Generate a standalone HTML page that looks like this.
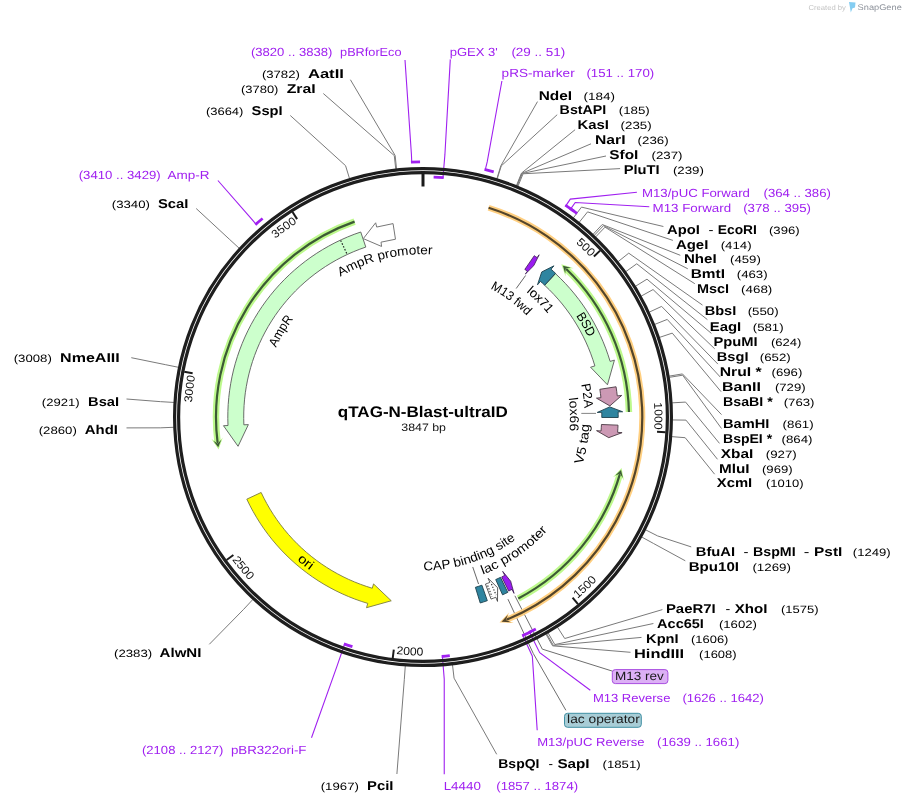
<!DOCTYPE html>
<html><head><meta charset="utf-8"><style>
html,body{margin:0;padding:0;background:#fff;}
svg{display:block;font-family:"Liberation Sans", sans-serif;text-rendering:geometricPrecision;will-change:transform;}
</style></head><body>
<svg width="906" height="804" viewBox="0 0 906 804">
<rect width="906" height="804" fill="#fff"/>
<defs>
<path id="tk1" d="M450.37,187.12 A231.5,231.5 0 0 1 590.35,257.05"/>
<path id="tk2" d="M609.28,279.56 A231.5,231.5 0 0 1 654.16,429.46"/>
<path id="tk3" d="M577.42,598.76 A238.5,238.5 0 0 0 657.6,459.93"/>
<path id="tk4" d="M396.26,654 A238.5,238.5 0 0 0 552.34,617.38"/>
<path id="tk5" d="M231.96,559.77 A238.5,238.5 0 0 0 365.51,648.47"/>
<path id="tk6" d="M221.04,530.16 A231.5,231.5 0 0 1 195.19,375.83"/>
<path id="tk7" d="M202.25,347.28 A231.5,231.5 0 0 1 297.03,222.78"/>
<path id="tp8" d="M260.52,427.22 A162.8,162.8 0 0 1 572.18,351.82"/>
<path id="tp9" d="M316.07,539.36 A162.5,162.5 0 0 1 481.63,265.45"/>
<path id="tp10" d="M256.22,324.93 A190.5,190.5 0 0 0 548.23,560.55"/>
<path id="tp11" d="M361.44,244.13 A183.5,183.5 0 0 1 539.97,558.39"/>
<path id="tp12" d="M330.08,284.3 A162,162 0 0 1 555.7,509.92"/>
<path id="tp13" d="M323.56,311.47 A145,145 0 0 1 552.54,482.15"/>
<path id="tp14" d="M430.33,255.67 A161.5,161.5 0 0 1 471.3,571.11"/>
<path id="tp15" d="M446,271.81 A147,147 0 0 1 451.05,561.3"/>
<path id="tp16" d="M424.16,583.5 A166.5,166.5 0 0 0 478.85,260.15"/>
<path id="tp17" d="M302.2,534.47 A168.5,168.5 0 0 0 576.69,347.93"/>
<path id="tp18" d="M288.36,490.71 A153.5,153.5 0 0 0 574.73,393.78"/>
</defs>
<polyline points="396.56,168.9 395.13,155.48 350.4,79.7" fill="none" stroke="#7a7a7a" stroke-width="1"/>
<polyline points="395.75,168.99 394.28,155.57 323.3,93.5" fill="none" stroke="#7a7a7a" stroke-width="1"/>
<polyline points="349.53,178.56 345.56,165.66 290.3,115.5" fill="none" stroke="#7a7a7a" stroke-width="1"/>
<polyline points="239.21,248.26 229.27,239.13 196.2,208.5" fill="none" stroke="#7a7a7a" stroke-width="1"/>
<polyline points="178.5,367.31 165.27,364.63 131.3,357.7" fill="none" stroke="#7a7a7a" stroke-width="1"/>
<polyline points="173.93,402.44 160.45,401.65 126.5,399" fill="none" stroke="#7a7a7a" stroke-width="1"/>
<polyline points="173.71,427.29 160.22,427.84 126.5,427.9" fill="none" stroke="#7a7a7a" stroke-width="1"/>
<polyline points="252.84,599.47 243.64,609.35 209.3,644.3" fill="none" stroke="#7a7a7a" stroke-width="1"/>
<polyline points="405.29,665.87 404.33,679.34 396.9,774" fill="none" stroke="#7a7a7a" stroke-width="1"/>
<polyline points="496.86,178.68 500.85,165.79 537.5,101.6" fill="none" stroke="#7a7a7a" stroke-width="1"/>
<polyline points="497.25,178.8 501.26,165.91 557.2,114.7" fill="none" stroke="#7a7a7a" stroke-width="1"/>
<polyline points="516.43,185.65 521.48,173.14 575.1,129.7" fill="none" stroke="#7a7a7a" stroke-width="1"/>
<polyline points="516.81,185.81 521.88,173.3 591,143.8" fill="none" stroke="#7a7a7a" stroke-width="1"/>
<polyline points="517.18,185.96 522.28,173.46 606,156" fill="none" stroke="#7a7a7a" stroke-width="1"/>
<polyline points="517.94,186.27 523.07,173.78 620.1,168.6" fill="none" stroke="#7a7a7a" stroke-width="1"/>
<polyline points="573.35,217.89 581.49,207.12 663.4,226.5" fill="none" stroke="#7a7a7a" stroke-width="1"/>
<polyline points="579.14,222.4 587.59,211.87 672.9,240.4" fill="none" stroke="#7a7a7a" stroke-width="1"/>
<polyline points="593.01,234.39 602.21,224.51 680.3,255.3" fill="none" stroke="#7a7a7a" stroke-width="1"/>
<polyline points="594.2,235.5 603.46,225.68 687.8,268.8" fill="none" stroke="#7a7a7a" stroke-width="1"/>
<polyline points="595.67,236.91 605.02,227.16 694.8,283.7" fill="none" stroke="#7a7a7a" stroke-width="1"/>
<polyline points="618.18,261.58 628.74,253.17 702.5,305.1" fill="none" stroke="#7a7a7a" stroke-width="1"/>
<polyline points="625.79,271.65 636.76,263.79 707.4,319.6" fill="none" stroke="#7a7a7a" stroke-width="1"/>
<polyline points="635.49,286.24 646.99,279.17 711.4,333.4" fill="none" stroke="#7a7a7a" stroke-width="1"/>
<polyline points="641.25,296.09 653.06,289.55 714.7,348.8" fill="none" stroke="#7a7a7a" stroke-width="1"/>
<polyline points="649.36,312.08 661.61,306.4 717.9,364.1" fill="none" stroke="#7a7a7a" stroke-width="1"/>
<polyline points="654.69,324.42 667.22,319.41 720.3,377.1" fill="none" stroke="#7a7a7a" stroke-width="1"/>
<polyline points="659.47,337.42 672.26,333.12 721.1,391.7" fill="none" stroke="#7a7a7a" stroke-width="1"/>
<polyline points="669.13,376.13 682.45,373.92 721.5,414.6" fill="none" stroke="#7a7a7a" stroke-width="1"/>
<polyline points="669.33,377.34 682.66,375.19 721.5,428.5" fill="none" stroke="#7a7a7a" stroke-width="1"/>
<polyline points="672.1,402.85 685.58,402.08 719.5,443.4" fill="none" stroke="#7a7a7a" stroke-width="1"/>
<polyline points="672.48,419.95 685.98,420.11 717.5,459.3" fill="none" stroke="#7a7a7a" stroke-width="1"/>
<polyline points="671.73,436.64 685.18,437.7 714.6,474.2" fill="none" stroke="#7a7a7a" stroke-width="1"/>
<polyline points="645.54,529.81 657.58,535.91 691.2,546.9" fill="none" stroke="#7a7a7a" stroke-width="1"/>
<polyline points="641.74,537.02 653.57,543.51 685.3,560.8" fill="none" stroke="#7a7a7a" stroke-width="1"/>
<polyline points="557.47,627.16 564.74,638.53 662.4,609.6" fill="none" stroke="#7a7a7a" stroke-width="1"/>
<polyline points="548.07,632.89 554.84,644.57 653.4,623.5" fill="none" stroke="#7a7a7a" stroke-width="1"/>
<polyline points="546.66,633.7 553.35,645.42 641.5,637.4" fill="none" stroke="#7a7a7a" stroke-width="1"/>
<polyline points="545.95,634.1 552.6,645.85 630.5,652.3" fill="none" stroke="#7a7a7a" stroke-width="1"/>
<polyline points="452.47,664.75 454.07,678.16 496.7,754.3" fill="none" stroke="#7a7a7a" stroke-width="1"/>
<polyline points="411.75,162.05 411.41,154.26 405,60" fill="none" stroke="#a020f0" stroke-width="1.1"/>
<polyline points="442.98,177.63 444.88,154.91 450.3,59.4" fill="none" stroke="#a020f0" stroke-width="1.1"/>
<polyline points="485.3,169.52 487.21,161.96 501.9,81" fill="none" stroke="#a020f0" stroke-width="1.1"/>
<polyline points="565.94,205.59 570.31,199.12 636.9,192.3" fill="none" stroke="#a020f0" stroke-width="1.1"/>
<polyline points="570.73,208.91 575.25,202.55 649.3,206.8" fill="none" stroke="#a020f0" stroke-width="1.1"/>
<polyline points="255.93,224.09 250.82,218.19 217.9,180.5" fill="none" stroke="#a020f0" stroke-width="1.1"/>
<polyline points="344.63,644.05 337.19,665.61 311.5,737.7" fill="none" stroke="#a020f0" stroke-width="1.1"/>
<polyline points="442.4,656.42 444.24,679.14 444.24,774.2" fill="none" stroke="#a020f0" stroke-width="1.1"/>
<polyline points="529.59,632.26 539.7,652.69 590.3,690.2" fill="none" stroke="#a020f0" stroke-width="1.1"/>
<polyline points="522.86,635.46 532.33,656.2 537.2,730.3" fill="none" stroke="#a020f0" stroke-width="1.1"/>
<polyline points="514.88,595.77 542.3,649.14 612.6,671.2" fill="none" stroke="#6e6e6e" stroke-width="1"/>
<polyline points="507.95,599.17 533.3,653.55 565.9,710.3" fill="none" stroke="#6e6e6e" stroke-width="1"/>
<circle cx="423" cy="417" r="248.4" fill="none" stroke="#1e1e1e" stroke-width="3.2"/>
<circle cx="423" cy="417" r="244.4" fill="none" stroke="#1e1e1e" stroke-width="3.2"/>
<path d="M410.95,162.08 A255.2,255.2 0 0 1 420.05,161.82" fill="none" stroke="#a020f0" stroke-width="2.8"/>
<path d="M433.62,177.03 A240.2,240.2 0 0 1 443.74,177.7" fill="none" stroke="#a020f0" stroke-width="2.8"/>
<path d="M484.52,169.33 A255.2,255.2 0 0 1 493.72,171.79" fill="none" stroke="#a020f0" stroke-width="2.8"/>
<path d="M565.27,205.14 A255.2,255.2 0 0 1 574.09,211.33" fill="none" stroke="#a020f0" stroke-width="2.8"/>
<path d="M570.08,208.45 A255.2,255.2 0 0 1 577.09,213.57" fill="none" stroke="#a020f0" stroke-width="2.8"/>
<path d="M255.32,224.62 A255.2,255.2 0 0 1 262.62,218.49" fill="none" stroke="#a020f0" stroke-width="2.8"/>
<path d="M352.43,646.6 A240.2,240.2 0 0 1 343.91,643.81" fill="none" stroke="#a020f0" stroke-width="2.8"/>
<path d="M449.79,655.7 A240.2,240.2 0 0 1 441.65,656.48" fill="none" stroke="#a020f0" stroke-width="2.8"/>
<path d="M535.84,629.04 A240.2,240.2 0 0 1 528.91,632.59" fill="none" stroke="#a020f0" stroke-width="2.8"/>
<path d="M531.31,631.39 A240.2,240.2 0 0 1 522.17,635.77" fill="none" stroke="#a020f0" stroke-width="2.8"/>
<line x1="593.91" y1="256.44" x2="600.11" y2="250.62" stroke="#1a1a1a" stroke-width="2"/>
<line x1="657.04" y1="431.64" x2="665.53" y2="432.17" stroke="#1a1a1a" stroke-width="2"/>
<line x1="572.57" y1="597.6" x2="577.99" y2="604.15" stroke="#1a1a1a" stroke-width="2"/>
<line x1="393.78" y1="649.67" x2="392.72" y2="658.11" stroke="#1a1a1a" stroke-width="2"/>
<line x1="233.41" y1="555.01" x2="226.54" y2="560.01" stroke="#1a1a1a" stroke-width="2"/>
<line x1="192.61" y1="373.31" x2="184.26" y2="371.72" stroke="#1a1a1a" stroke-width="2"/>
<line x1="297.1" y1="219.16" x2="292.54" y2="211.99" stroke="#1a1a1a" stroke-width="2"/>
<line x1="423" y1="186.5" x2="423" y2="172.5" stroke="#1a1a1a" stroke-width="3"/>
<text font-size="11.4" fill="#111" textLength="20.25" lengthAdjust="spacingAndGlyphs"><textPath href="#tk1" startOffset="100%" text-anchor="end">500</textPath></text>
<text font-size="11.4" fill="#111" textLength="27" lengthAdjust="spacingAndGlyphs"><textPath href="#tk2" startOffset="100%" text-anchor="end">1000</textPath></text>
<text font-size="11.4" fill="#111" textLength="27" lengthAdjust="spacingAndGlyphs"><textPath href="#tk3" startOffset="0" text-anchor="start">1500</textPath></text>
<text font-size="11.4" fill="#111" textLength="27" lengthAdjust="spacingAndGlyphs"><textPath href="#tk4" startOffset="0" text-anchor="start">2000</textPath></text>
<text font-size="11.4" fill="#111" textLength="27" lengthAdjust="spacingAndGlyphs"><textPath href="#tk5" startOffset="0" text-anchor="start">2500</textPath></text>
<text font-size="11.4" fill="#111" textLength="27" lengthAdjust="spacingAndGlyphs"><textPath href="#tk6" startOffset="100%" text-anchor="end">3000</textPath></text>
<text font-size="11.4" fill="#111" textLength="27" lengthAdjust="spacingAndGlyphs"><textPath href="#tk7" startOffset="100%" text-anchor="end">3500</textPath></text>
<path d="M354.58,221.63 A207,207 0 0 0 217.65,443.08" fill="none" stroke="#bdf98c" stroke-width="6.5"/>
<path d="M354.58,221.63 A207,207 0 0 0 217.65,443.08" fill="none" stroke="#3c5a35" stroke-width="2.2"/>
<polygon points="218.55,449.41 211.35,438.7 217.69,443.43 222.81,437.52" fill="#bdf98c"/>
<polygon points="218.22,447.24 213.34,440.75 217.69,443.43 221.29,439.85" fill="#3c5a35"/>
<path d="M360.74,232 L354.15,234.34 L347.65,236.93 L341.25,239.74 L334.95,242.78 L328.77,246.05 L322.71,249.53 L316.77,253.23 L310.98,257.14 L305.32,261.26 L299.82,265.58 L294.47,270.08 L289.29,274.78 L284.29,279.66 L279.45,284.72 L274.81,289.95 L270.35,295.34 L266.09,300.88 L262.03,306.58 L258.18,312.41 L254.54,318.39 L251.12,324.48 L247.91,330.7 L244.93,337.03 L242.18,343.46 L239.67,349.98 L237.38,356.59 L235.34,363.28 L233.53,370.03 L231.97,376.85 L230.66,383.72 L229.59,390.63 L228.77,397.58 L228.2,404.54 L227.88,411.53 L227.81,418.52 L227.99,425.51 L223.49,425.71 L238.06,446.29 L248.37,424.62 L243.87,424.82 L243.71,418.4 L243.77,411.98 L244.07,405.56 L244.59,399.16 L245.34,392.78 L246.33,386.43 L247.53,380.12 L248.97,373.86 L250.62,367.65 L252.5,361.51 L254.6,355.44 L256.91,349.45 L259.44,343.54 L262.18,337.73 L265.12,332.02 L268.26,326.42 L271.61,320.93 L275.15,315.57 L278.87,310.34 L282.79,305.25 L286.88,300.3 L291.15,295.5 L295.58,290.85 L300.18,286.37 L304.94,282.05 L309.85,277.91 L314.91,273.95 L320.1,270.17 L325.43,266.57 L330.88,263.18 L336.45,259.97 L342.13,256.98 L347.91,254.18 L353.79,251.6 L359.76,249.22 L365.81,247.07 Z" fill="#ccffcc" stroke="#5a5a5a" stroke-width="0.9" stroke-linejoin="miter"/>
<line x1="346.72" y1="253.41" x2="340.67" y2="240.45" stroke="#222" stroke-width="1.2" stroke-dasharray="1.6,1.6"/>
<polyline points="393.06,223.6 376.7,227.06 375.66,222.79 363.31,238.62 381.58,246.46 381.03,242.17 395.48,239.22 393.06,223.6" fill="#ffffff" stroke="#777" stroke-width="1" stroke-linejoin="miter"/>
<path d="M246.81,499.16 L249.82,505.32 L253.04,511.37 L256.48,517.31 L260.12,523.11 L263.96,528.79 L268,534.33 L272.23,539.72 L276.66,544.96 L281.26,550.05 L286.04,554.96 L290.99,559.7 L296.1,564.27 L301.38,568.65 L306.8,572.85 L312.37,576.85 L318.07,580.65 L323.91,584.25 L329.87,587.64 L335.94,590.82 L342.13,593.78 L348.41,596.52 L354.79,599.04 L361.25,601.33 L367.79,603.39 L366.51,607.71 L391.26,600.78 L373.55,583.93 L372.27,588.25 L366.27,586.35 L360.33,584.24 L354.47,581.93 L348.7,579.41 L343.02,576.69 L337.44,573.77 L331.96,570.66 L326.6,567.35 L321.36,563.86 L316.24,560.18 L311.26,556.33 L306.42,552.3 L301.72,548.11 L297.17,543.75 L292.78,539.23 L288.55,534.56 L284.49,529.75 L280.6,524.8 L276.89,519.71 L273.36,514.49 L270.01,509.15 L266.86,503.7 L263.9,498.14 L261.13,492.48 Z" fill="#ffff00" stroke="#7a7a40" stroke-width="0.9" stroke-linejoin="miter"/>
<path d="M488.58,207.74 A219.3,219.3 0 0 1 506.33,619.85" fill="none" stroke="#ffcf80" stroke-width="6"/>
<path d="M488.58,207.74 A219.3,219.3 0 0 1 506.33,619.85" fill="none" stroke="#54452a" stroke-width="2.2"/>
<polygon points="499.53,622.51 513.81,622.93 505.94,620.01 509.16,612.39" fill="#ffcf80"/>
<polygon points="501.59,621.73 511.04,622.21 505.94,620.01 507.89,614.86" fill="#54452a"/>
<path d="M628.94,411.97 A206,206 0 0 0 566.02,268.74" fill="none" stroke="#bdf98c" stroke-width="6.5"/>
<path d="M628.94,411.97 A206,206 0 0 0 566.02,268.74" fill="none" stroke="#3c5a35" stroke-width="2.2"/>
<polygon points="561.34,264.37 573.67,268.2 565.77,268.49 565.48,276.3" fill="#bdf98c"/>
<polygon points="562.96,265.85 570.84,267.85 565.77,268.49 565.2,273.53" fill="#3c5a35"/>
<path d="M518.29,598.51 A205,205 0 0 0 619.89,474.1" fill="none" stroke="#bdf98c" stroke-width="6.5"/>
<path d="M518.29,598.51 A205,205 0 0 0 619.89,474.1" fill="none" stroke="#3c5a35" stroke-width="2.2"/>
<polygon points="621.57,467.93 623.93,480.63 619.98,473.77 612.94,477.15" fill="#bdf98c"/>
<polygon points="621.01,470.06 622.91,477.95 619.98,473.77 615.26,475.62" fill="#3c5a35"/>
<path d="M555.5,273.66 L560.54,278.48 L565.4,283.48 L570.07,288.65 L574.56,293.99 L578.86,299.48 L582.96,305.12 L586.85,310.91 L590.54,316.82 L594.01,322.87 L597.26,329.04 L600.29,335.32 L603.09,341.7 L605.67,348.18 L608.01,354.75 L610.11,361.4 L614.43,360.12 L607.46,384.81 L590.56,367.21 L594.87,365.93 L592.94,359.82 L590.79,353.79 L588.42,347.84 L585.85,341.97 L583.06,336.2 L580.08,330.54 L576.89,324.98 L573.5,319.55 L569.93,314.23 L566.16,309.05 L562.22,304.01 L558.09,299.11 L553.8,294.36 L549.33,289.77 L544.71,285.34 Z" fill="#ccffcc" stroke="#5a5a5a" stroke-width="0.9" stroke-linejoin="miter"/>
<path d="M555.58,273.32 L553.31,271.26 L551,269.23 L553.95,265.83 L541.73,271.94 L537.51,284.8 L540.46,281.4 L542.58,283.26 L544.66,285.16 Z" fill="#2f85a0" stroke="#1d3f4c" stroke-width="0.9" stroke-linejoin="miter"/>
<path d="M616.05,386.77 L616.71,391.33 L617.26,395.9 L621.73,395.41 L609.87,405.9 L596.48,398.15 L600.95,397.67 L600.45,393.48 L599.84,389.31 Z" fill="#cc99b4" stroke="#4a3a44" stroke-width="0.9" stroke-linejoin="miter"/>
<path d="M618.2,417.51 L618.19,414.7 L618.13,411.89 L622.63,411.77 L609.73,406.89 L597.24,412.44 L601.74,412.32 L601.79,414.89 L601.8,417.47 Z" fill="#2f85a0" stroke="#1d3f4c" stroke-width="0.9" stroke-linejoin="miter"/>
<path d="M618.03,425.17 L617.85,428.75 L617.6,432.32 L622.08,432.67 L608.75,437.67 L596.56,430.66 L601.05,431.01 L601.28,427.75 L601.44,424.48 Z" fill="#cc99b4" stroke="#4a3a44" stroke-width="0.9" stroke-linejoin="miter"/>
<path d="M534.3,255.67 L535.7,256.64 L537.1,257.63 L539.13,254.79 L533.83,265.57 L525.34,274.06 L527.37,271.21 L526.1,270.31 L524.81,269.41 Z" fill="#9a1cf0" stroke="#3a1a50" stroke-width="0.8" stroke-linejoin="miter"/>
<path d="M487.32,600.66 L483.78,601.86 L480.22,603 L475.4,587.32 L478.66,586.29 L481.9,585.19 Z" fill="#2f85a0" stroke="#1d3f4c" stroke-width="0.9"/>
<path d="M491.08,599.09 L493.46,598.18 L495.82,597.24 L497.51,601.42 L497.63,587.81 L488.14,578.24 L489.83,582.41 L487.66,583.27 L485.48,584.1 Z" fill="#ffffff" stroke="#333" stroke-width="0.8" stroke-linejoin="miter"/>
<line x1="487.69" y1="585.51" x2="491.99" y2="596.71" stroke="#222" stroke-width="1.1" stroke-dasharray="1.3,1.6"/>
<line x1="491.49" y1="584" x2="496.05" y2="595.1" stroke="#222" stroke-width="1.1" stroke-dasharray="1.3,1.6"/>
<path d="M507.78,592.38 L505.17,593.62 L502.54,594.82 L495.72,579.58 L498.13,578.48 L500.51,577.35 Z" fill="#2f85a0" stroke="#1d3f4c" stroke-width="0.9"/>
<path d="M508.65,591.07 L510.32,590.24 L511.98,589.39 L514.04,593.39 L510.66,581.16 L502.67,571.35 L504.73,575.35 L503.21,576.13 L501.68,576.89 Z" fill="#9a1cf0" stroke="#3a1a50" stroke-width="0.8" stroke-linejoin="miter"/>
<line x1="472.74" y1="566.97" x2="478.55" y2="584" stroke="#555" stroke-width="0.9"/>
<line x1="525.6" y1="275.5" x2="516.2" y2="288.5" stroke="#555" stroke-width="0.9"/>
<line x1="581.3" y1="413.4" x2="596" y2="413.4" stroke="#777" stroke-width="0.9"/>
<text font-size="12.8" font-weight="normal" fill="#000" textLength="96" lengthAdjust="spacingAndGlyphs"><textPath href="#tp8" startOffset="50%" text-anchor="middle">AmpR promoter</textPath></text>
<text font-size="12.8" font-weight="normal" fill="#000" textLength="34" lengthAdjust="spacingAndGlyphs"><textPath href="#tp9" startOffset="50%" text-anchor="middle">AmpR</textPath></text>
<text font-size="12.8" font-weight="normal" fill="#000" textLength="16.5" lengthAdjust="spacingAndGlyphs"><textPath href="#tp10" startOffset="50%" text-anchor="middle">ori</textPath></text>
<text font-size="12.8" font-weight="normal" fill="#000" textLength="25" lengthAdjust="spacingAndGlyphs"><textPath href="#tp11" startOffset="50%" text-anchor="middle">BSD</textPath></text>
<text font-size="12.8" font-weight="normal" fill="#000" textLength="31" lengthAdjust="spacingAndGlyphs"><textPath href="#tp12" startOffset="50%" text-anchor="middle">lox71</textPath></text>
<text font-size="12.8" font-weight="normal" fill="#000" textLength="46" lengthAdjust="spacingAndGlyphs"><textPath href="#tp13" startOffset="50%" text-anchor="middle">M13 fwd</textPath></text>
<text font-size="12.8" font-weight="normal" fill="#000" textLength="24.5" lengthAdjust="spacingAndGlyphs"><textPath href="#tp14" startOffset="50%" text-anchor="middle">P2A</textPath></text>
<text font-size="12.8" font-weight="normal" fill="#000" textLength="33" lengthAdjust="spacingAndGlyphs"><textPath href="#tp15" startOffset="50%" text-anchor="middle">lox66</textPath></text>
<text font-size="12.8" font-weight="normal" fill="#000" textLength="41" lengthAdjust="spacingAndGlyphs"><textPath href="#tp16" startOffset="50%" text-anchor="middle">V5 tag</textPath></text>
<text font-size="12.8" font-weight="normal" fill="#000" textLength="79" lengthAdjust="spacingAndGlyphs"><textPath href="#tp17" startOffset="50%" text-anchor="middle">lac promoter</textPath></text>
<text font-size="12.8" font-weight="normal" fill="#000" textLength="99" lengthAdjust="spacingAndGlyphs"><textPath href="#tp18" startOffset="50%" text-anchor="middle">CAP binding site</textPath></text>
<text x="261.9" y="78" font-size="10.6" font-weight="normal" fill="#000" textLength="37.9" lengthAdjust="spacingAndGlyphs">(3782)</text>
<text x="307.9" y="78" font-size="12.8" font-weight="bold" fill="#000" textLength="36" lengthAdjust="spacingAndGlyphs">AatII</text>
<text x="241" y="93" font-size="10.6" font-weight="normal" fill="#000" textLength="37.4" lengthAdjust="spacingAndGlyphs">(3780)</text>
<text x="286.7" y="93" font-size="12.8" font-weight="bold" fill="#000" textLength="29" lengthAdjust="spacingAndGlyphs">ZraI</text>
<text x="205.9" y="115" font-size="10.6" font-weight="normal" fill="#000" textLength="37.5" lengthAdjust="spacingAndGlyphs">(3664)</text>
<text x="251.6" y="115" font-size="12.8" font-weight="bold" fill="#000" textLength="31" lengthAdjust="spacingAndGlyphs">SspI</text>
<text x="78.7" y="179.2" font-size="11.8" font-weight="normal" fill="#a020f0" textLength="82" lengthAdjust="spacingAndGlyphs">(3410 .. 3429)</text>
<text x="167.5" y="179.2" font-size="11.8" font-weight="normal" fill="#a020f0" textLength="42" lengthAdjust="spacingAndGlyphs">Amp-R</text>
<text x="111.8" y="208" font-size="10.6" font-weight="normal" fill="#000" textLength="38.1" lengthAdjust="spacingAndGlyphs">(3340)</text>
<text x="157.9" y="208" font-size="12.8" font-weight="bold" fill="#000" textLength="30.4" lengthAdjust="spacingAndGlyphs">ScaI</text>
<text x="13.7" y="362" font-size="10.6" font-weight="normal" fill="#000" textLength="38.1" lengthAdjust="spacingAndGlyphs">(3008)</text>
<text x="60.1" y="362" font-size="12.8" font-weight="bold" fill="#000" textLength="59.7" lengthAdjust="spacingAndGlyphs">NmeAIII</text>
<text x="41.8" y="405.6" font-size="10.6" font-weight="normal" fill="#000" textLength="37.8" lengthAdjust="spacingAndGlyphs">(2921)</text>
<text x="88.1" y="405.6" font-size="12.8" font-weight="bold" fill="#000" textLength="31" lengthAdjust="spacingAndGlyphs">BsaI</text>
<text x="38.7" y="433.8" font-size="10.6" font-weight="normal" fill="#000" textLength="38.1" lengthAdjust="spacingAndGlyphs">(2860)</text>
<text x="84.8" y="433.8" font-size="12.8" font-weight="bold" fill="#000" textLength="33.2" lengthAdjust="spacingAndGlyphs">AhdI</text>
<text x="114" y="656.8" font-size="10.6" font-weight="normal" fill="#000" textLength="38.1" lengthAdjust="spacingAndGlyphs">(2383)</text>
<text x="159.6" y="656.8" font-size="12.8" font-weight="bold" fill="#000" textLength="41.8" lengthAdjust="spacingAndGlyphs">AlwNI</text>
<text x="142" y="753.8" font-size="11.8" font-weight="normal" fill="#a020f0" textLength="81.3" lengthAdjust="spacingAndGlyphs">(2108 .. 2127)</text>
<text x="230.9" y="753.8" font-size="11.8" font-weight="normal" fill="#a020f0" textLength="75.6" lengthAdjust="spacingAndGlyphs">pBR322ori-F</text>
<text x="320.7" y="789.6" font-size="10.6" font-weight="normal" fill="#000" textLength="38.2" lengthAdjust="spacingAndGlyphs">(1967)</text>
<text x="367" y="789.6" font-size="12.8" font-weight="bold" fill="#000" textLength="26.4" lengthAdjust="spacingAndGlyphs">PciI</text>
<text x="250.9" y="55.9" font-size="11.8" font-weight="normal" fill="#a020f0" textLength="81.5" lengthAdjust="spacingAndGlyphs">(3820 .. 3838)</text>
<text x="340.1" y="55.9" font-size="11.8" font-weight="normal" fill="#a020f0" textLength="61.4" lengthAdjust="spacingAndGlyphs">pBRforEco</text>
<text x="449.7" y="55.6" font-size="11.8" font-weight="normal" fill="#a020f0" textLength="48.1" lengthAdjust="spacingAndGlyphs">pGEX 3'</text>
<text x="511.4" y="55.6" font-size="11.8" font-weight="normal" fill="#a020f0" textLength="53.9" lengthAdjust="spacingAndGlyphs">(29 .. 51)</text>
<text x="501.6" y="77.3" font-size="11.8" font-weight="normal" fill="#a020f0" textLength="73.1" lengthAdjust="spacingAndGlyphs">pRS-marker</text>
<text x="586.4" y="77.3" font-size="11.8" font-weight="normal" fill="#a020f0" textLength="67.8" lengthAdjust="spacingAndGlyphs">(151 .. 170)</text>
<text x="538.7" y="99.6" font-size="12.8" font-weight="bold" fill="#000" textLength="33.4" lengthAdjust="spacingAndGlyphs">NdeI</text>
<text x="583.5" y="99.6" font-size="10.6" font-weight="normal" fill="#000" textLength="31.4" lengthAdjust="spacingAndGlyphs">(184)</text>
<text x="559.6" y="114.4" font-size="12.8" font-weight="bold" fill="#000" textLength="46.7" lengthAdjust="spacingAndGlyphs">BstAPI</text>
<text x="618.8" y="114.4" font-size="10.6" font-weight="normal" fill="#000" textLength="31" lengthAdjust="spacingAndGlyphs">(185)</text>
<text x="577.5" y="129.4" font-size="12.8" font-weight="bold" fill="#000" textLength="31.5" lengthAdjust="spacingAndGlyphs">KasI</text>
<text x="620.6" y="129.4" font-size="10.6" font-weight="normal" fill="#000" textLength="31" lengthAdjust="spacingAndGlyphs">(235)</text>
<text x="595" y="144.4" font-size="12.8" font-weight="bold" fill="#000" textLength="30.5" lengthAdjust="spacingAndGlyphs">NarI</text>
<text x="637.6" y="144.4" font-size="10.6" font-weight="normal" fill="#000" textLength="31" lengthAdjust="spacingAndGlyphs">(236)</text>
<text x="609.3" y="159.2" font-size="12.8" font-weight="bold" fill="#000" textLength="29" lengthAdjust="spacingAndGlyphs">SfoI</text>
<text x="651.5" y="159.2" font-size="10.6" font-weight="normal" fill="#000" textLength="31" lengthAdjust="spacingAndGlyphs">(237)</text>
<text x="623.7" y="174" font-size="12.8" font-weight="bold" fill="#000" textLength="36" lengthAdjust="spacingAndGlyphs">PluTI</text>
<text x="672.9" y="174" font-size="10.6" font-weight="normal" fill="#000" textLength="31" lengthAdjust="spacingAndGlyphs">(239)</text>
<text x="642" y="197" font-size="11.8" font-weight="normal" fill="#a020f0" textLength="107.9" lengthAdjust="spacingAndGlyphs">M13/pUC Forward</text>
<text x="763.5" y="197" font-size="11.8" font-weight="normal" fill="#a020f0" textLength="67.4" lengthAdjust="spacingAndGlyphs">(364 .. 386)</text>
<text x="652.6" y="212" font-size="11.8" font-weight="normal" fill="#a020f0" textLength="78.5" lengthAdjust="spacingAndGlyphs">M13 Forward</text>
<text x="743.2" y="212" font-size="11.8" font-weight="normal" fill="#a020f0" textLength="67.8" lengthAdjust="spacingAndGlyphs">(378 .. 395)</text>
<text x="667" y="233.6" font-size="12.8" font-weight="bold" fill="#000" textLength="32.8" lengthAdjust="spacingAndGlyphs">ApoI</text>
<text x="708.4" y="233.6" font-size="12.8" font-weight="normal" fill="#000" textLength="5" lengthAdjust="spacingAndGlyphs">-</text>
<text x="717.8" y="233.6" font-size="12.8" font-weight="bold" fill="#000" textLength="39.1" lengthAdjust="spacingAndGlyphs">EcoRI</text>
<text x="769" y="233.6" font-size="10.6" font-weight="normal" fill="#000" textLength="30.6" lengthAdjust="spacingAndGlyphs">(396)</text>
<text x="675.9" y="248.6" font-size="12.8" font-weight="bold" fill="#000" textLength="32.4" lengthAdjust="spacingAndGlyphs">AgeI</text>
<text x="720.7" y="248.6" font-size="10.6" font-weight="normal" fill="#000" textLength="30.9" lengthAdjust="spacingAndGlyphs">(414)</text>
<text x="683.9" y="263.4" font-size="12.8" font-weight="bold" fill="#000" textLength="32.7" lengthAdjust="spacingAndGlyphs">NheI</text>
<text x="730" y="263.4" font-size="10.6" font-weight="normal" fill="#000" textLength="30.8" lengthAdjust="spacingAndGlyphs">(459)</text>
<text x="690.7" y="278.3" font-size="12.8" font-weight="bold" fill="#000" textLength="34.3" lengthAdjust="spacingAndGlyphs">BmtI</text>
<text x="736.8" y="278.3" font-size="10.6" font-weight="normal" fill="#000" textLength="30.8" lengthAdjust="spacingAndGlyphs">(463)</text>
<text x="696.9" y="293.1" font-size="12.8" font-weight="bold" fill="#000" textLength="32.1" lengthAdjust="spacingAndGlyphs">MscI</text>
<text x="741.1" y="293.1" font-size="10.6" font-weight="normal" fill="#000" textLength="31.2" lengthAdjust="spacingAndGlyphs">(468)</text>
<text x="704.7" y="315.4" font-size="12.8" font-weight="bold" fill="#000" textLength="31.6" lengthAdjust="spacingAndGlyphs">BbsI</text>
<text x="747.7" y="315.4" font-size="10.6" font-weight="normal" fill="#000" textLength="31" lengthAdjust="spacingAndGlyphs">(550)</text>
<text x="709.7" y="330.8" font-size="12.8" font-weight="bold" fill="#000" textLength="31.5" lengthAdjust="spacingAndGlyphs">EagI</text>
<text x="752.8" y="330.8" font-size="10.6" font-weight="normal" fill="#000" textLength="30.8" lengthAdjust="spacingAndGlyphs">(581)</text>
<text x="713.5" y="345.6" font-size="12.8" font-weight="bold" fill="#000" textLength="44.2" lengthAdjust="spacingAndGlyphs">PpuMI</text>
<text x="770.9" y="345.6" font-size="10.6" font-weight="normal" fill="#000" textLength="30.5" lengthAdjust="spacingAndGlyphs">(624)</text>
<text x="716.8" y="360.6" font-size="12.8" font-weight="bold" fill="#000" textLength="31.7" lengthAdjust="spacingAndGlyphs">BsgI</text>
<text x="759.8" y="360.6" font-size="10.6" font-weight="normal" fill="#000" textLength="31" lengthAdjust="spacingAndGlyphs">(652)</text>
<text x="719.7" y="375.6" font-size="12.8" font-weight="bold" fill="#000" textLength="42" lengthAdjust="spacingAndGlyphs">NruI *</text>
<text x="771.5" y="375.6" font-size="10.6" font-weight="normal" fill="#000" textLength="30.8" lengthAdjust="spacingAndGlyphs">(696)</text>
<text x="721.9" y="390.9" font-size="12.8" font-weight="bold" fill="#000" textLength="39.1" lengthAdjust="spacingAndGlyphs">BanII</text>
<text x="774.9" y="390.9" font-size="10.6" font-weight="normal" fill="#000" textLength="30.7" lengthAdjust="spacingAndGlyphs">(729)</text>
<text x="723" y="405.9" font-size="12.8" font-weight="bold" fill="#000" textLength="49.7" lengthAdjust="spacingAndGlyphs">BsaBI *</text>
<text x="783.7" y="405.9" font-size="10.6" font-weight="normal" fill="#000" textLength="30.8" lengthAdjust="spacingAndGlyphs">(763)</text>
<text x="723" y="427.7" font-size="12.8" font-weight="bold" fill="#000" textLength="46.4" lengthAdjust="spacingAndGlyphs">BamHI</text>
<text x="782.6" y="427.7" font-size="10.6" font-weight="normal" fill="#000" textLength="31" lengthAdjust="spacingAndGlyphs">(861)</text>
<text x="723" y="442.7" font-size="12.8" font-weight="bold" fill="#000" textLength="49.1" lengthAdjust="spacingAndGlyphs">BspEI *</text>
<text x="781.5" y="442.7" font-size="10.6" font-weight="normal" fill="#000" textLength="31" lengthAdjust="spacingAndGlyphs">(864)</text>
<text x="720.8" y="457.5" font-size="12.8" font-weight="bold" fill="#000" textLength="32.5" lengthAdjust="spacingAndGlyphs">XbaI</text>
<text x="765.8" y="457.5" font-size="10.6" font-weight="normal" fill="#000" textLength="31" lengthAdjust="spacingAndGlyphs">(927)</text>
<text x="719" y="472.5" font-size="12.8" font-weight="bold" fill="#000" textLength="30.6" lengthAdjust="spacingAndGlyphs">MluI</text>
<text x="762" y="472.5" font-size="10.6" font-weight="normal" fill="#000" textLength="30.6" lengthAdjust="spacingAndGlyphs">(969)</text>
<text x="716.8" y="487.3" font-size="12.8" font-weight="bold" fill="#000" textLength="35.4" lengthAdjust="spacingAndGlyphs">XcmI</text>
<text x="766" y="487.3" font-size="10.6" font-weight="normal" fill="#000" textLength="37.6" lengthAdjust="spacingAndGlyphs">(1010)</text>
<text x="695.8" y="555.8" font-size="12.8" font-weight="bold" fill="#000" textLength="39.3" lengthAdjust="spacingAndGlyphs">BfuAI</text>
<text x="743.6" y="555.8" font-size="12.8" font-weight="normal" fill="#000" textLength="5" lengthAdjust="spacingAndGlyphs">-</text>
<text x="753" y="555.8" font-size="12.8" font-weight="bold" fill="#000" textLength="42.6" lengthAdjust="spacingAndGlyphs">BspMI</text>
<text x="803.8" y="555.8" font-size="12.8" font-weight="normal" fill="#000" textLength="5.6" lengthAdjust="spacingAndGlyphs">-</text>
<text x="814.1" y="555.8" font-size="12.8" font-weight="bold" fill="#000" textLength="28.2" lengthAdjust="spacingAndGlyphs">PstI</text>
<text x="852.8" y="555.8" font-size="10.6" font-weight="normal" fill="#000" textLength="37.9" lengthAdjust="spacingAndGlyphs">(1249)</text>
<text x="688.7" y="571.1" font-size="12.8" font-weight="bold" fill="#000" textLength="50.3" lengthAdjust="spacingAndGlyphs">Bpu10I</text>
<text x="752.4" y="571.1" font-size="10.6" font-weight="normal" fill="#000" textLength="38.5" lengthAdjust="spacingAndGlyphs">(1269)</text>
<text x="665.9" y="612.7" font-size="12.8" font-weight="bold" fill="#000" textLength="49.8" lengthAdjust="spacingAndGlyphs">PaeR7I</text>
<text x="725.6" y="612.7" font-size="12.8" font-weight="normal" fill="#000" textLength="4.8" lengthAdjust="spacingAndGlyphs">-</text>
<text x="734.8" y="612.7" font-size="12.8" font-weight="bold" fill="#000" textLength="32.7" lengthAdjust="spacingAndGlyphs">XhoI</text>
<text x="780.9" y="612.7" font-size="10.6" font-weight="normal" fill="#000" textLength="37.6" lengthAdjust="spacingAndGlyphs">(1575)</text>
<text x="657.1" y="627.7" font-size="12.8" font-weight="bold" fill="#000" textLength="46.8" lengthAdjust="spacingAndGlyphs">Acc65I</text>
<text x="718.9" y="627.7" font-size="10.6" font-weight="normal" fill="#000" textLength="38" lengthAdjust="spacingAndGlyphs">(1602)</text>
<text x="646.1" y="642.7" font-size="12.8" font-weight="bold" fill="#000" textLength="32.5" lengthAdjust="spacingAndGlyphs">KpnI</text>
<text x="691" y="642.7" font-size="10.6" font-weight="normal" fill="#000" textLength="37.4" lengthAdjust="spacingAndGlyphs">(1606)</text>
<text x="634" y="657.7" font-size="12.8" font-weight="bold" fill="#000" textLength="50.2" lengthAdjust="spacingAndGlyphs">HindIII</text>
<text x="699.1" y="657.7" font-size="10.6" font-weight="normal" fill="#000" textLength="37.5" lengthAdjust="spacingAndGlyphs">(1608)</text>
<text x="592.9" y="701.6" font-size="11.8" font-weight="normal" fill="#a020f0" textLength="77.5" lengthAdjust="spacingAndGlyphs">M13 Reverse</text>
<text x="682.4" y="701.6" font-size="11.8" font-weight="normal" fill="#a020f0" textLength="81.5" lengthAdjust="spacingAndGlyphs">(1626 .. 1642)</text>
<text x="537.2" y="746.1" font-size="11.8" font-weight="normal" fill="#a020f0" textLength="107.4" lengthAdjust="spacingAndGlyphs">M13/pUC Reverse</text>
<text x="657.1" y="746.1" font-size="11.8" font-weight="normal" fill="#a020f0" textLength="82.2" lengthAdjust="spacingAndGlyphs">(1639 .. 1661)</text>
<text x="498.3" y="767.6" font-size="12.8" font-weight="bold" fill="#000" textLength="41.1" lengthAdjust="spacingAndGlyphs">BspQI</text>
<text x="548.6" y="767.6" font-size="12.8" font-weight="normal" fill="#000" textLength="4.5" lengthAdjust="spacingAndGlyphs">-</text>
<text x="557.4" y="767.6" font-size="12.8" font-weight="bold" fill="#000" textLength="32.2" lengthAdjust="spacingAndGlyphs">SapI</text>
<text x="602.6" y="767.9" font-size="10.6" font-weight="normal" fill="#000" textLength="38" lengthAdjust="spacingAndGlyphs">(1851)</text>
<text x="443.7" y="789.7" font-size="11.8" font-weight="normal" fill="#a020f0" textLength="37.2" lengthAdjust="spacingAndGlyphs">L4440</text>
<text x="496.3" y="789.7" font-size="11.8" font-weight="normal" fill="#a020f0" textLength="81.8" lengthAdjust="spacingAndGlyphs">(1857 .. 1874)</text>
<rect x="612.3" y="669.6" width="55.6" height="14.0" rx="3" ry="3" fill="#dcb0f5" stroke="#a84ee0" stroke-width="1"/>
<text x="615" y="679.9" font-size="12" font-weight="normal" fill="#1a1a1a" textLength="48.9" lengthAdjust="spacingAndGlyphs">M13 rev</text>
<rect x="564.5" y="713.3" width="76.8" height="14.0" rx="3" ry="3" fill="#a8cdd6" stroke="#3f8fa3" stroke-width="1"/>
<text x="567.1" y="723.4" font-size="12" font-weight="normal" fill="#1a1a1a" textLength="72.7" lengthAdjust="spacingAndGlyphs">lac operator</text>
<text x="337.8" y="416.6" font-size="15.4" font-weight="bold" fill="#000" textLength="170" lengthAdjust="spacingAndGlyphs">qTAG-N-Blast-ultraID</text>
<text x="401.3" y="430.7" font-size="10.8" font-weight="normal" fill="#111" textLength="44.7" lengthAdjust="spacingAndGlyphs">3847 bp</text>
<text x="808.5" y="10.3" font-size="7.2" font-weight="normal" fill="#c4c4c4" textLength="37.4" lengthAdjust="spacingAndGlyphs">Created by</text>
<path d="M849,2 L855.5,2.6 L855,7.5 L852.5,8.2 L850.8,12.6 Z" fill="#84cdf2"/>
<text x="857.6" y="10.4" font-size="8.2" font-weight="normal" fill="#8b9099" textLength="44.2" lengthAdjust="spacingAndGlyphs">SnapGene</text>
</svg>
</body></html>
